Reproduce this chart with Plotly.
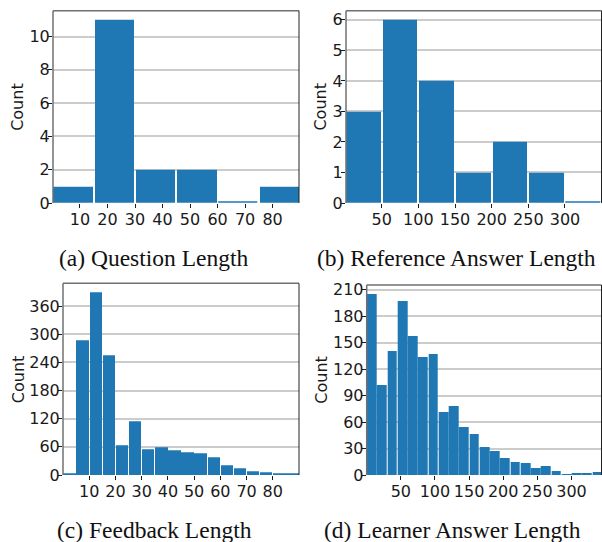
import plotly.graph_objects as go

# ---------------- data ----------------
q_bin_start, q_bin_width = 0, 15
q_counts = [1, 11, 2, 2, 0, 1]

ref_bin_start, ref_bin_width = 0, 50
ref_counts = [3, 6, 4, 1, 2, 1, 0]

fb_bin_start, fb_bin_width = 0, 5
fb_counts = [2, 286, 389, 255, 64, 115, 55, 59, 53, 49, 47, 38, 21, 15, 7, 5, 4, 3]

la_bin_start, la_bin_width = 0, 15
la_counts = [205, 102, 140, 197, 158, 134, 137, 71, 78, 54, 46, 32, 27, 19, 15, 14,
             8, 10, 4, 1, 2, 2, 3]

q_xticks = [10, 20, 30, 40, 50, 60, 70, 80]
q_yticks = [0, 2, 4, 6, 8, 10]
ref_xticks = [50, 100, 150, 200, 250, 300]
ref_yticks = [0, 1, 2, 3, 4, 5, 6]
fb_xticks = [10, 20, 30, 40, 50, 60, 70, 80]
fb_yticks = [0, 60, 120, 180, 240, 300, 360]
la_xticks = [50, 100, 150, 200, 250, 300]
la_yticks = [0, 30, 60, 90, 120, 150, 180, 210]

captions = ["(a) Question Length", "(b) Reference Answer Length",
            "(c) Feedback Length", "(d) Learner Answer Length"]

# ---------------- figure ----------------
W, H = 602, 542
BLUE = "#1f77b4"
RWIDTH = 0.95

panels = [
    dict(start=q_bin_start, w=q_bin_width, counts=q_counts, xt=q_xticks, yt=q_yticks,
         xr=[0.2, 89.6], box=(53, 10.7, 299, 203), cap=(154, 257.5), lab=18),
    dict(start=ref_bin_start, w=ref_bin_width, counts=ref_counts, xt=ref_xticks, yt=ref_yticks,
         xr=[1.3, 349.8], box=(346, 10.7, 601.5, 203), cap=(456, 257.5), lab=320.7),
    dict(start=fb_bin_start, w=fb_bin_width, counts=fb_counts, xt=fb_xticks, yt=fb_yticks,
         xr=[0, 90], box=(63, 283.3, 299, 475), cap=(154, 529.5), lab=18),
    dict(start=la_bin_start, w=la_bin_width, counts=la_counts, xt=la_xticks, yt=la_yticks,
         xr=[0, 344], box=(366.7, 285, 601.5, 475), cap=(452, 529.5), lab=320.7),
]

fig = go.Figure()
layout = dict(width=W, height=H, margin=dict(l=0, r=0, t=0, b=0, autoexpand=False),
              paper_bgcolor="white", plot_bgcolor="white", showlegend=False,
              annotations=[], shapes=[], bargap=0)

tickfont = dict(family="DejaVu Sans", size=16, color="#1a1a1a")

for i, p in enumerate(panels):
    n = i + 1
    xa = "x" if n == 1 else f"x{n}"
    ya = "y" if n == 1 else f"y{n}"
    centers = [p["start"] + p["w"] * (k + 0.5) for k in range(len(p["counts"]))]
    # empty bins show as a thin line on the baseline, like the original
    lw = [1.5 if c == 0 else 0 for c in p["counts"]]
    fig.add_trace(go.Bar(x=centers, y=p["counts"], width=p["w"] * RWIDTH,
                         marker=dict(color=BLUE, line=dict(width=lw, color=BLUE)),
                         xaxis=xa, yaxis=ya, hoverinfo="skip"))
    x0, y0, x1, y1 = p["box"]
    ymax = max(p["counts"]) * 1.05
    layout["xaxis" if n == 1 else f"xaxis{n}"] = dict(
        domain=[x0 / W, x1 / W], anchor=ya, range=p["xr"], automargin=False,
        tickvals=p["xt"], ticks="outside", ticklen=4, tickwidth=1, tickcolor="#1a1a1a",
        ticklabelstandoff=-2,
        showgrid=False, zeroline=False, showline=False, tickfont=tickfont,
        fixedrange=True)
    layout["yaxis" if n == 1 else f"yaxis{n}"] = dict(
        domain=[1 - y1 / H, 1 - y0 / H], anchor=xa, range=[0, ymax], automargin=False,
        tickvals=p["yt"], ticks="outside", ticklen=4, tickwidth=1, tickcolor="#1a1a1a",
        ticklabelstandoff=-5,
        showgrid=True, gridcolor="#cccccc", gridwidth=1.5, zeroline=False, showline=False,
        tickfont=tickfont, fixedrange=True)
    # spines
    layout["shapes"] += [
        dict(type="line", xref="paper", yref="paper", x0=x0 / W, x1=x0 / W,
             y0=1 - y1 / H, y1=1 - y0 / H, line=dict(color="#707070", width=1.5)),
        dict(type="line", xref="paper", yref="paper", x0=x0 / W, x1=x1 / W,
             y0=1 - y0 / H, y1=1 - y0 / H, line=dict(color="#707070", width=1.5)),
        dict(type="line", xref="paper", yref="paper", x0=x1 / W, x1=x1 / W,
             y0=1 - y1 / H, y1=1 - y0 / H, line=dict(color="#222222", width=1)),
    ]
    # y label
    layout["annotations"].append(dict(
        text="Count", x=p["lab"] / W, y=1 - (y0 + y1) / 2 / H, xref="paper", yref="paper",
        textangle=-90, showarrow=False, xanchor="center", yanchor="middle",
        font=dict(family="DejaVu Sans", size=16, color="#1a1a1a")))
    # caption
    cx, cy = p["cap"]
    layout["annotations"].append(dict(
        text=captions[i], x=cx / W, y=1 - cy / H, xref="paper", yref="paper",
        showarrow=False, xanchor="center", yanchor="middle",
        font=dict(family="Liberation Serif, Times New Roman, serif", size=23.5,
                  color="#111111")))

fig.update_layout(**layout)
fig.write_html("out.html", config={"displayModeBar": False},
               post_script="document.body.style.margin='0';document.body.style.overflow='hidden';")
